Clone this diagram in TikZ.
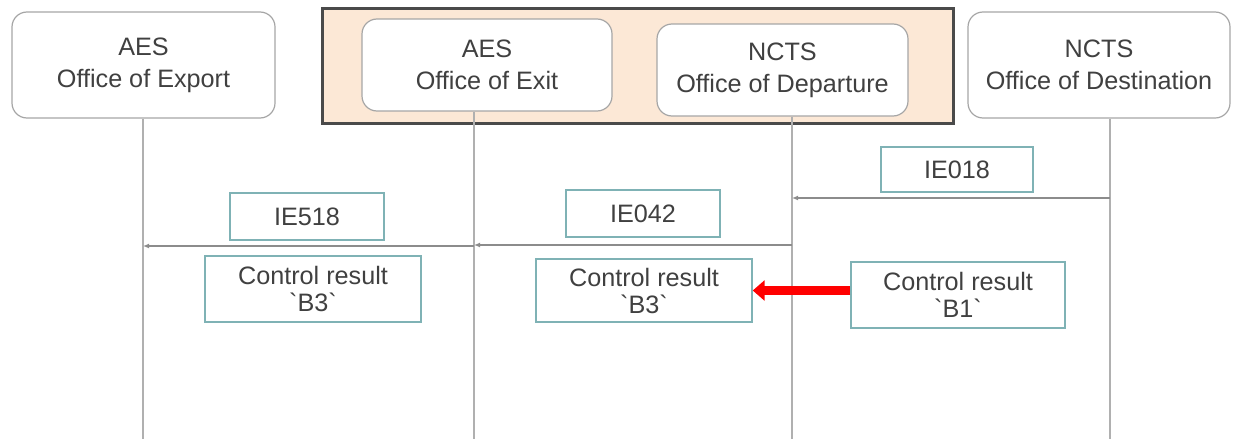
\documentclass[tikz,border=0pt]{standalone}
\usepackage{fontspec}
\setmainfont{Liberation Sans}
\usetikzlibrary{arrows.meta}
\definecolor{txtgray}{HTML}{404040}
\definecolor{boxgray}{HTML}{A6A6A6}
\definecolor{tealgray}{HTML}{7FB2B5}
\definecolor{linegray}{HTML}{B0B0B0}
\definecolor{msggray}{HTML}{8C8C8C}
\definecolor{framegray}{HTML}{4A4A4A}
\definecolor{peach}{HTML}{FCE8D6}
\tikzset{
  office/.style={draw=boxgray, fill=white, rounded corners=7.5pt, line width=0.6pt,
    align=center, inner sep=0pt, text=txtgray, font=\fontsize{12.6}{16}\selectfont},
  msgbox/.style={draw=tealgray, fill=white, line width=0.7pt,
    align=center, inner sep=0pt, text=txtgray, font=\fontsize{12.6}{13.5}\selectfont},
  lifeline/.style={draw=linegray, line width=0.75pt},
  msg/.style={draw=msggray, line width=0.7pt, -{Latex[length=3pt,width=2.5pt]}},
  bigarrow/.style={draw=red, line width=4.5pt, -{Triangle[length=6pt,width=10pt]}},
}
\begin{document}
\begin{tikzpicture}[x=0.5pt,y=-0.5pt]
\useasboundingbox (0,0) rectangle (1235,439);

% offices
\draw[draw=framegray, fill=peach, line width=1.5pt] (322,8) rectangle (953,123);
\node[office, minimum width=131.5pt, minimum height=53pt] (export) at (143.5,65) {AES\\Office of Export};
\node[office, minimum width=125pt, minimum height=46pt] (exit) at (487,65) {AES\\Office of Exit};
\node[office, minimum width=125.5pt, minimum height=46pt] (dep) at (782.5,70) {NCTS\\Office of Departure};
\node[office, minimum width=131pt, minimum height=53pt] (dest) at (1099,65) {NCTS\\Office of Destination};

% lifelines
\coordinate (exportL) at (143,439);
\coordinate (exitL) at (474,439);
\coordinate (depL) at (792,439);
\coordinate (destL) at (1110,439);
\draw[lifeline] (exportL |- export.south) -- (exportL);
\draw[lifeline] (exitL |- exit.south) -- (exitL);
\draw[lifeline] (depL |- dep.south) -- (depL);
\draw[lifeline] (destL |- dest.south) -- (destL);

% messages
\coordinate (row1) at (0,198);
\coordinate (row2) at (0,246);
\coordinate (row3) at (0,245);
\node[msgbox, minimum width=76pt, minimum height=22.5pt] (ie018) at (957,169.5) {IE018};
\node[msgbox, minimum width=77pt, minimum height=23.5pt] (ie518) at (307,216.5) {IE518};
\node[msgbox, minimum width=77pt, minimum height=23.5pt] (ie042) at (643,213.5) {IE042};
\draw[msg] (destL |- row1) -- (depL |- row1);
\draw[msg] (exitL |- row2) -- (exportL |- row2);
\draw[msg] (depL |- row3) -- (exitL |- row3);

% control results
\node[msgbox, minimum width=108pt, minimum height=33pt] (cr1) at (313,289) {Control result\\\textasciigrave B3\textasciigrave};
\node[msgbox, minimum width=108pt, minimum height=31.5pt] (cr2) at (644,290.5) {Control result\\\textasciigrave B3\textasciigrave};
\node[msgbox, minimum width=107pt, minimum height=33pt] (cr3) at (958,295) {Control result\\\textasciigrave B1\textasciigrave};
\draw[bigarrow] (cr2.east -| cr3.west) -- (cr2.east);

\end{tikzpicture}
\end{document}
